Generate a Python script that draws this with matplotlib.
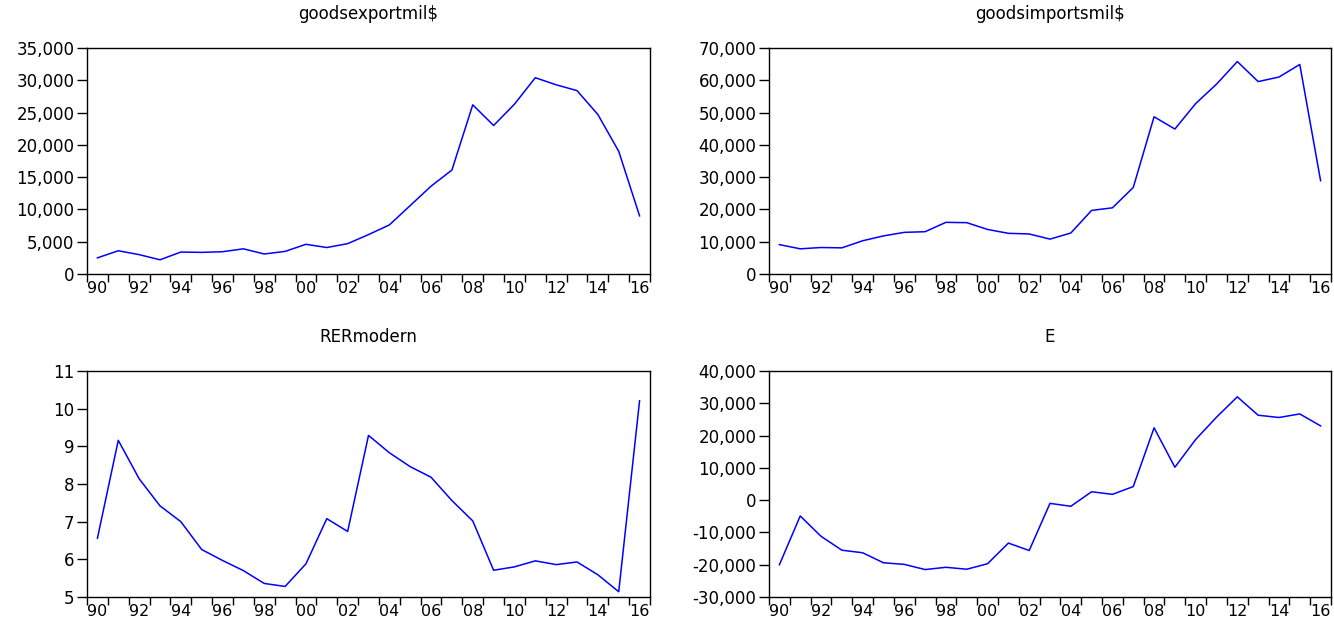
import numpy as np
import matplotlib
matplotlib.use('Agg')
import matplotlib.pyplot as plt
from matplotlib.ticker import FuncFormatter, FixedLocator

years = list(range(1990, 2017))

exports = [2500, 3600, 3000, 2200, 3400, 3350, 3450, 3900, 3100, 3500,
           4600, 4100, 4700, 6100, 7600, 10600, 13600, 16100, 26200, 23000,
           26300, 30400, 29300, 28400, 24700, 19000, 9000]
imports = [9100, 7800, 8200, 8100, 10300, 11800, 12900, 13100, 16000, 15900,
           13800, 12600, 12400, 10800, 12700, 19700, 20500, 26800, 48700, 44900,
           52800, 58800, 65800, 59600, 61000, 64900, 28900]
rer = [6.56, 9.16, 8.14, 7.42, 7.00, 6.26, 5.97, 5.70, 5.36, 5.28,
       5.88, 7.08, 6.74, 9.29, 8.83, 8.46, 8.18, 7.56, 7.02, 5.71,
       5.80, 5.96, 5.86, 5.93, 5.59, 5.14, 10.21]
e_vals = [-20000, -4900, -11200, -15500, -16300, -19400, -19900, -21500, -20800, -21400,
          -19700, -13300, -15600, -1000, -1900, 2600, 1800, 4200, 22400, 10200,
          18800, 25700, 32000, 26300, 25600, 26700, 23000]

titles = ['goodsexportmil$', 'goodsimportsmil$', 'RERmodern', 'E']
series = [exports, imports, rer, e_vals]
yticks = [np.arange(0, 35001, 5000), np.arange(0, 70001, 10000),
          np.arange(5, 12, 1), np.arange(-30000, 40001, 10000)]

plt.rcParams['font.family'] = ['DejaVu Sans']
fs = 12

fig = plt.figure(figsize=(13.34, 6.21), dpi=100)
W, H = 1334.0, 621.0
boxes = [(87, 48, 650, 274), (769, 48, 1331, 274),
         (87, 371, 650, 597), (769, 371, 1331, 597)]

comma = FuncFormatter(lambda v, p: '{:,.0f}'.format(v))

for i in range(4):
    x0, y0, x1, y1 = boxes[i]
    ax = fig.add_axes([x0 / W, 1 - y1 / H, (x1 - x0) / W, (y1 - y0) / H])
    xs = [y + 0.5 for y in years]
    ax.plot(xs, series[i], color='#0000FF', lw=1.1)
    ax.set_xlim(1990, 2017)
    t = yticks[i]
    ax.set_ylim(t[0], t[-1])
    ax.set_yticks(t)
    if i == 2:
        ax.yaxis.set_major_formatter(FuncFormatter(lambda v, p: '%d' % v))
    else:
        ax.yaxis.set_major_formatter(comma)
    ax.xaxis.set_major_locator(FixedLocator(range(1990, 2018)))
    ax.xaxis.set_major_formatter(FuncFormatter(lambda v, p: ''))
    lab_years = [y for y in years if y % 2 == 0]
    ax.xaxis.set_minor_locator(FixedLocator([y + 0.5 for y in lab_years]))
    ax.xaxis.set_minor_formatter(FuncFormatter(lambda v, p: '%02d' % (int(v) % 100)))
    ax.tick_params(axis='x', which='major', direction='out', length=6, width=1)
    ax.tick_params(axis='x', which='minor', length=0, labelsize=11.5, pad=5)
    ax.tick_params(axis='y', direction='out', length=7, width=1, labelsize=fs, pad=2)
    ax.tick_params(right=False, top=False)
    for s in ax.spines.values():
        s.set_linewidth(1.0)
        s.set_color('black')
    ax.text(0.5, 1 + 34 / 226.0, titles[i], transform=ax.transAxes,
            ha='center', va='center', fontsize=fs)

plt.savefig('out.png', dpi=100)
